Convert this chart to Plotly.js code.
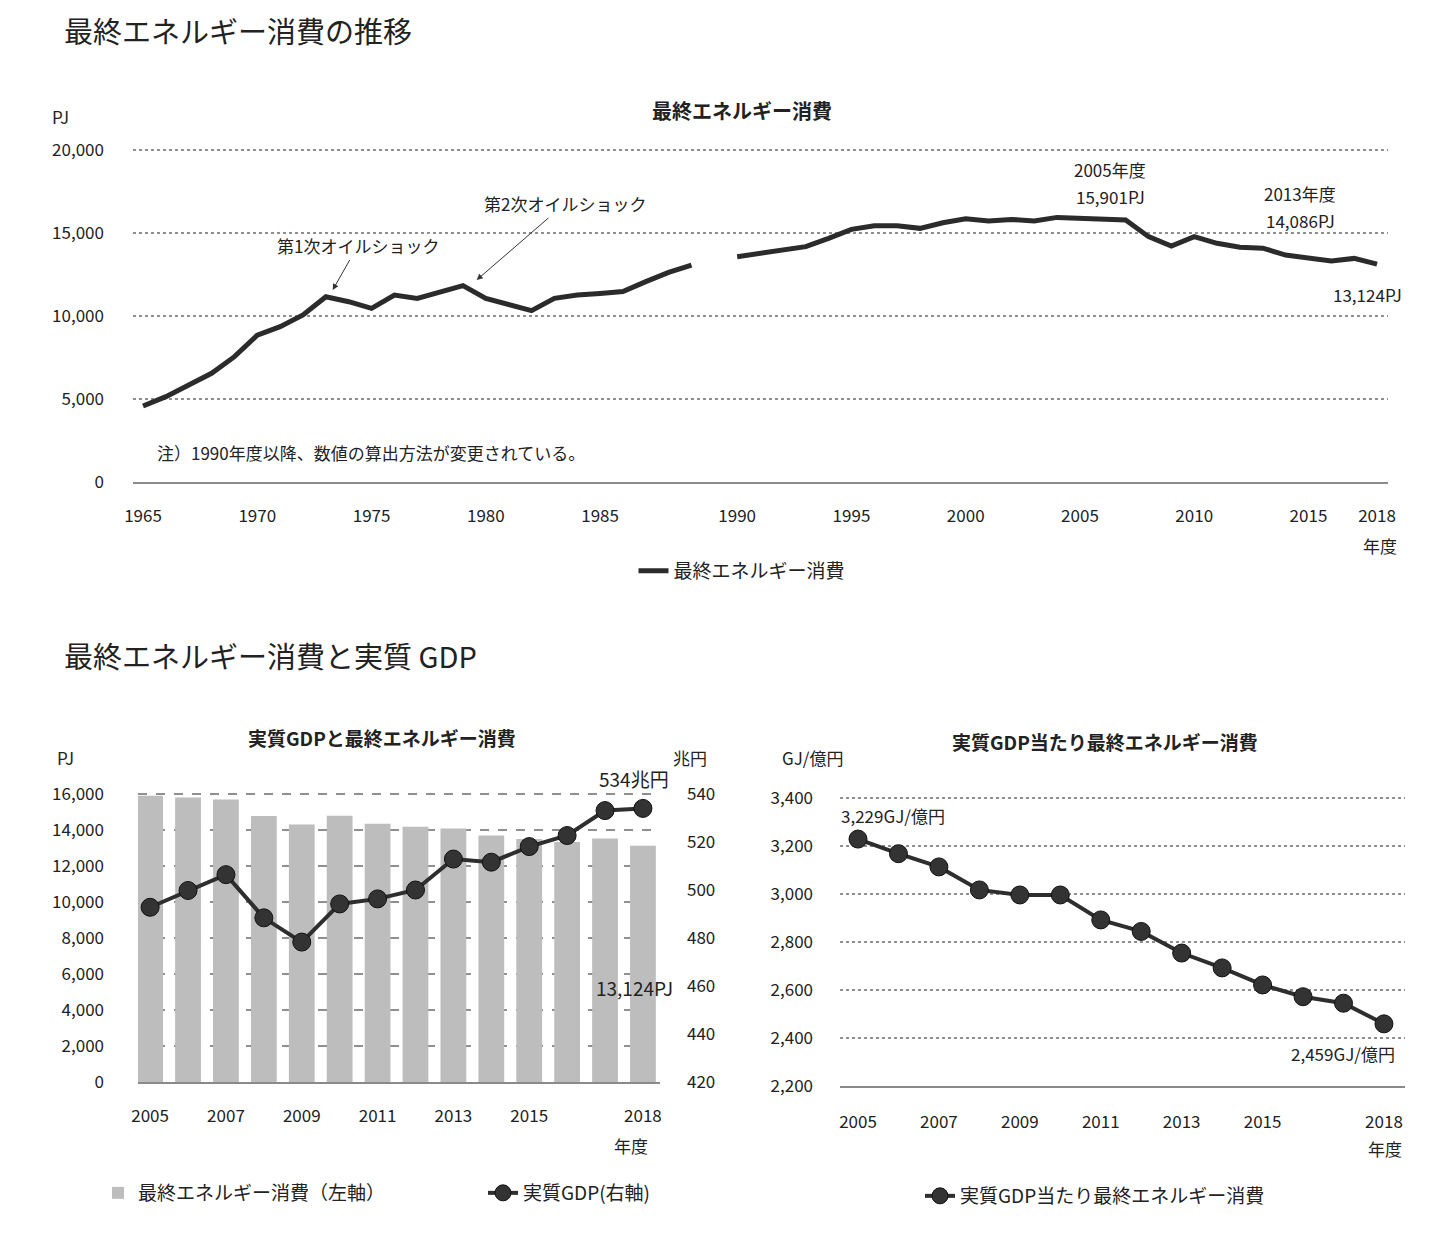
<!DOCTYPE html>
<html><head><meta charset="utf-8">
<script src="https://cdn.plot.ly/plotly-3.0.1.min.js"></script>
<style>body{margin:0;background:#fff}</style>
</head><body><div id="chart" style="width:1430px;height:1236px"></div>
<script>
// ---- data ----
const yearsOld = [1965,1966,1967,1968,1969,1970,1971,1972,1973,1974,1975,1976,1977,1978,1979,1980,1981,1982,1983,1984,1985,1986,1987,1988,1989];
const energyOld = [4580,5140,5840,6550,7550,8850,9360,10060,11160,10860,10460,11260,11060,11470,11830,11060,10660,10320,11060,11260,11360,11470,12070,12630,13070];
const yearsNew = [1990,1991,1992,1993,1994,1995,1996,1997,1998,1999,2000,2001,2002,2003,2004,2005,2006,2007,2008,2009,2010,2011,2012,2013,2014,2015,2016,2017,2018];
const energyNew = [13570,13780,13940,14180,14680,15220,15440,15440,15280,15620,15860,15720,15820,15720,15940,15901,15880,15780,14780,14220,14780,14380,14140,14086,13670,13510,13310,13470,13124];
const yearsRecent = [2005,2006,2007,2008,2009,2010,2011,2012,2013,2014,2015,2016,2017,2018];
const energyRecent = [15901,15800,15690,14780,14310,14790,14350,14180,14086,13690,13500,13340,13530,13124];
const gdpRecent = [492.8,499.8,506.4,488.4,478.3,494.2,496.3,500.0,512.9,511.6,518.1,522.7,533.1,534.0];
const intensityRecent = [3229,3168,3113,3017,2996,2996,2892,2844,2754,2692,2621,2572,2545,2459];
const topTickLabels = ['1965','1970','1975','1980','1985','1990','1995','2000','2005','2010','2015','2018'];
const bottomTickYears = [2005,2007,2009,2011,2013,2015,2018];
const topYTicks = [0, 5000, 10000, 15000, 20000];
const leftYTicks = [0, 2000, 4000, 6000, 8000, 10000, 12000, 14000, 16000];
const gdpYTicks = [420, 440, 460, 480, 500, 520, 540];
const intensityYTicks = [2200, 2400, 2600, 2800, 3000, 3200, 3400];

// ---- helpers ----
const W = 1430, H = 1236;
const px = v => v / W;
const py = v => 1 - v / H;
const F = '"Noto Sans CJK JP", "Noto Sans", sans-serif';
const TXT = '#222';
const topCategories = yearsOld.map(String).concat([' '], yearsNew.map(String));

const traces = [
  {x: yearsOld.map(String), y: energyOld, type: 'scatter', mode: 'lines', name: '最終エネルギー消費',
   line: {color: '#2b2b2b', width: 5}, xaxis: 'x', yaxis: 'y', legend: 'legend', legendgroup: 'e', showlegend: true},
  {x: yearsNew.map(String), y: energyNew, type: 'scatter', mode: 'lines', name: '最終エネルギー消費',
   line: {color: '#2b2b2b', width: 5}, xaxis: 'x', yaxis: 'y', legend: 'legend', legendgroup: 'e', showlegend: false},
  {x: yearsRecent, y: energyRecent, type: 'bar', name: '最終エネルギー消費（左軸）',
   marker: {color: '#bdbdbd'}, width: 0.68, xaxis: 'x2', yaxis: 'y2', legend: 'legend2'},
  {x: yearsRecent, y: gdpRecent, type: 'scatter', mode: 'lines+markers', name: '実質GDP(右軸)',
   line: {color: '#2e2e2e', width: 4}, marker: {size: 18, color: '#333', line: {color: '#111', width: 1}},
   xaxis: 'x2', yaxis: 'y3', legend: 'legend2'},
  {x: yearsRecent, y: intensityRecent, type: 'scatter', mode: 'lines+markers', name: '実質GDP当たり最終エネルギー消費',
   line: {color: '#2e2e2e', width: 4}, marker: {size: 18, color: '#333', line: {color: '#111', width: 1}},
   xaxis: 'x3', yaxis: 'y4', legend: 'legend3'}
];

const tickFont = {family: F, size: 17, color: TXT};
const gridBase = {gridcolor: '#8f8f8f', gridwidth: 1.5, griddash: 'dot', zeroline: false, showline: false, ticks: '', tickfont: tickFont, tickformat: ',d', fixedrange: true};

function ann(text, x, y, opts) {
  return Object.assign({text: text, x: px(x), y: py(y), xref: 'paper', yref: 'paper', showarrow: false,
    font: {family: F, size: 17, color: TXT}, xanchor: 'center', yanchor: 'middle'}, opts || {});
}

const annotations = [
  ann('最終エネルギー消費の推移', 62, 30, {xanchor: 'left', font: {family: F, size: 29, color: '#222'}}),
  ann('<b>最終エネルギー消費</b>', 742, 110, {font: {family: F, size: 20, color: '#222'}}),
  ann('PJ', 60, 117),
  {text: '第1次オイルショック', x: 8.3, y: 11570, xref: 'x', yref: 'y', ax: 25, ay: -44, axref: 'pixel', ayref: 'pixel',
   showarrow: true, arrowhead: 2, arrowsize: 1.2, arrowwidth: 1, arrowcolor: '#333', font: {family: F, size: 17, color: TXT}},
  {text: '第2次オイルショック', x: 14.6, y: 12170, xref: 'x', yref: 'y', ax: 88, ay: -76, axref: 'pixel', ayref: 'pixel',
   showarrow: true, arrowhead: 2, arrowsize: 1.2, arrowwidth: 1, arrowcolor: '#333', font: {family: F, size: 17, color: TXT}},
  ann('2005年度', 1110, 169),
  ann('15,901PJ', 1110, 196),
  ann('2013年度', 1300, 193),
  ann('14,086PJ', 1300, 220),
  ann('13,124PJ', 1367, 295),
  ann('注）1990年度以降、数値の算出方法が変更されている。', 155, 452, {xanchor: 'left'}),
  ann('年度', 1380, 545),

  ann('最終エネルギー消費と実質 GDP', 62, 655, {xanchor: 'left', font: {family: F, size: 29, color: '#222'}}),
  ann('<b>実質GDPと最終エネルギー消費</b>', 382, 737, {font: {family: F, size: 19, color: '#222'}}),
  ann('PJ', 65, 757),
  ann('兆円', 690, 757),
  ann('534兆円', 634, 778, {font: {family: F, size: 19, color: TXT}}),
  ann('13,124PJ', 634, 987, {font: {family: F, size: 19, color: TXT}}),
  ann('年度', 631, 1145),

  ann('<b>実質GDP当たり最終エネルギー消費</b>', 1105, 741, {font: {family: F, size: 19, color: '#222'}}),
  ann('GJ/億円', 812, 757),
  ann('3,229GJ/億円', 893, 815),
  ann('2,459GJ/億円', 1343, 1053),
  ann('年度', 1385, 1148)
];

const layout = {
  width: W, height: H,
  margin: {l: 0, r: 0, t: 0, b: 0},
  paper_bgcolor: '#fff', plot_bgcolor: '#fff',
  font: {family: F, color: TXT},
  showlegend: true,
  xaxis: {domain: [px(133), px(1388)], anchor: 'y', type: 'category', categoryarray: topCategories, categoryorder: 'array',
    range: [-0.44, 54.48], tickvals: topTickLabels, ticktext: topTickLabels, showgrid: false, zeroline: false,
    showline: true, linecolor: '#8a8a8a', linewidth: 2, ticks: '', tickfont: tickFont, ticklabelstandoff: 18, fixedrange: true},
  yaxis: Object.assign({}, gridBase, {domain: [py(482), py(146)], anchor: 'x', range: [0, 20241], tickvals: topYTicks, ticklabelstandoff: 28}),

  xaxis2: {domain: [px(138), px(660)], anchor: 'y2', range: [2004.68, 2018.45], tickvals: bottomTickYears, ticktext: bottomTickYears.map(String),
    showgrid: false, zeroline: false, showline: true, linecolor: '#8a8a8a', linewidth: 2, ticks: '', tickfont: tickFont, ticklabelstandoff: 18, fixedrange: true},
  yaxis2: Object.assign({}, gridBase, {domain: [py(1082), py(790)], anchor: 'x2', range: [0, 16222], tickvals: leftYTicks, griddash: 'dash', ticklabelstandoff: 33}),
  yaxis3: {overlaying: 'y2', side: 'right', anchor: 'x2', range: [420, 541.67], tickvals: gdpYTicks, showgrid: false, zeroline: false, showline: false,
    ticks: '', tickfont: tickFont, ticklabelstandoff: 26, fixedrange: true},

  xaxis3: {domain: [px(840), px(1405)], anchor: 'y4', range: [2004.555, 2018.52], tickvals: bottomTickYears, ticktext: bottomTickYears.map(String),
    showgrid: false, zeroline: false, showline: true, linecolor: '#8a8a8a', linewidth: 2, ticks: '', tickfont: tickFont, ticklabelstandoff: 20, fixedrange: true},
  yaxis4: Object.assign({}, gridBase, {domain: [py(1086), py(794)], anchor: 'x3', range: [2200, 3416.7], tickvals: intensityYTicks, ticklabelstandoff: 26}),

  legend: {orientation: 'h', x: px(742), y: py(571), xanchor: 'center', yanchor: 'middle', font: {family: F, size: 19, color: TXT}, bgcolor: 'rgba(0,0,0,0)'},
  legend2: {orientation: 'h', x: px(98), y: py(1193), xanchor: 'left', yanchor: 'middle', entrywidth: 340, font: {family: F, size: 19, color: TXT}, bgcolor: 'rgba(0,0,0,0)'},
  legend3: {orientation: 'h', x: px(1095), y: py(1196), xanchor: 'center', yanchor: 'middle', font: {family: F, size: 19, color: TXT}, bgcolor: 'rgba(0,0,0,0)'},
  annotations: annotations
};

Plotly.newPlot('chart', traces, layout, {displayModeBar: false, staticPlot: true});
</script>
</body></html>
